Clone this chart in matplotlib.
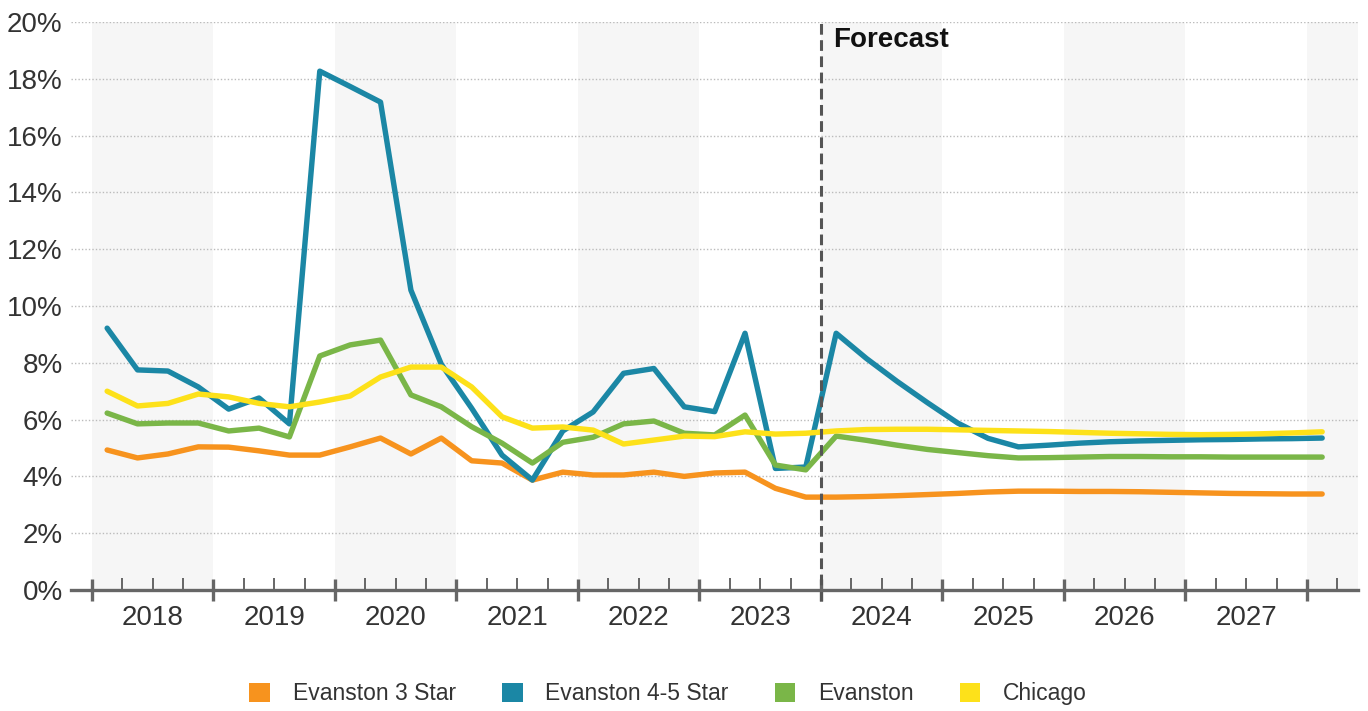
import numpy as np
import matplotlib
matplotlib.use("Agg")
import matplotlib.pyplot as plt
from matplotlib.patches import Patch

plt.rcParams["font.family"] = ["Liberation Sans", "DejaVu Sans"]

# quarterly vacancy rates, 2018 Q1 .. 2028 Q1
years = list(range(2018, 2028))
first_forecast_q = 24  # 2024 Q1

evanston_3 = [4.93, 4.65, 4.79, 5.04, 5.03, 4.90, 4.75, 4.75, 5.04, 5.35, 4.79, 5.35,
              4.55, 4.47, 3.87, 4.15, 4.05, 4.05, 4.15, 4.00, 4.12, 4.15, 3.58, 3.27,
              3.27, 3.29, 3.32, 3.36, 3.40, 3.45, 3.48, 3.48, 3.47, 3.47, 3.46, 3.44,
              3.42, 3.40, 3.39, 3.38, 3.38]
evanston_45 = [9.22, 7.75, 7.71, 7.15, 6.37, 6.76, 5.85, 18.27, 17.73, 17.18, 10.56, 7.95,
               6.40, 4.75, 3.87, 5.60, 6.27, 7.63, 7.80, 6.45, 6.28, 9.04, 4.28, 4.33,
               9.04, 8.15, 7.35, 6.60, 5.88, 5.34, 5.04, 5.10, 5.17, 5.22, 5.25, 5.27,
               5.29, 5.30, 5.32, 5.33, 5.35]
evanston = [6.23, 5.85, 5.88, 5.88, 5.60, 5.70, 5.39, 8.24, 8.63, 8.80, 6.87, 6.45,
            5.75, 5.17, 4.47, 5.20, 5.38, 5.85, 5.95, 5.52, 5.46, 6.16, 4.40, 4.23,
            5.42, 5.27, 5.10, 4.95, 4.84, 4.73, 4.65, 4.66, 4.68, 4.70, 4.70, 4.69,
            4.69, 4.68, 4.68, 4.68, 4.68]
chicago = [7.00, 6.48, 6.57, 6.90, 6.80, 6.57, 6.45, 6.62, 6.83, 7.50, 7.85, 7.85,
           7.15, 6.10, 5.70, 5.74, 5.63, 5.14, 5.28, 5.42, 5.40, 5.57, 5.49, 5.52,
           5.60, 5.65, 5.66, 5.66, 5.64, 5.62, 5.60, 5.58, 5.55, 5.52, 5.50, 5.48,
           5.47, 5.48, 5.50, 5.53, 5.57]

series = [
    ("Evanston 3 Star", evanston_3, "#F7931E"),
    ("Evanston 4-5 Star", evanston_45, "#1B87A5"),
    ("Evanston", evanston, "#7AB648"),
    ("Chicago", chicago, "#FDE11A"),
]

fig = plt.figure(figsize=(13.68, 7.11), dpi=100)
ax = fig.add_axes([0.0519, 0.1702, 0.9408, 0.7988])

# alternating year bands
for k in range(0, 12, 2):
    ax.axvspan(4 * k, 4 * k + 4, color="#F6F6F6", lw=0, zorder=0)

for name, vals, col in series:
    x = np.arange(len(vals)) + 0.5
    ax.plot(x, vals, color=col, lw=3.9, solid_capstyle="round",
            solid_joinstyle="round", zorder=3)

ax.set_xlim(-0.69, 41.68)
ax.set_ylim(0, 20)

# y axis
ax.set_yticks(range(0, 21, 2))
ax.set_yticklabels([f"{v}%" for v in range(0, 21, 2)])
ax.tick_params(axis="y", length=0, pad=6, labelsize=20, labelcolor="#333333")
for v in range(2, 21, 2):
    ax.axhline(v, color="#BBBBBB", lw=1.0, ls=(0, (1, 1.5)), zorder=1)

# x axis: year ticks and quarter ticks
for s in ["top", "right", "left"]:
    ax.spines[s].set_visible(False)
ax.spines["bottom"].set_color("#666666")
ax.spines["bottom"].set_linewidth(2.4)
ax.spines["bottom"].set_zorder(5)
ax.set_xticks(np.arange(0, 41, 4))
ax.set_xticklabels([])
ax.set_xticks([q for q in range(0, 42) if q % 4], minor=True)
ax.tick_params(axis="x", which="major", direction="inout", length=16.5,
               width=2.4, color="#666666")
ax.tick_params(axis="x", which="minor", direction="in", length=8.6,
               width=1.4, color="#666666")

for i, yr in enumerate(years):
    ax.annotate(str(yr), xy=(4 * i + 2, 0), xycoords=("data", "axes fraction"),
                xytext=(0, -28), textcoords="offset pixels",
                ha="center", va="center", fontsize=20, color="#333333")

# forecast divider
ax.axvline(first_forecast_q, ymin=-0.02, ymax=1, color="#555555", lw=2.2,
           ls=(0, (3.5, 1.8)), clip_on=False, zorder=4)
ax.text(first_forecast_q + 0.4, 19.82, "Forecast", fontsize=20,
        fontweight="bold", ha="left", va="top", color="#111111")

handles = [Patch(facecolor=c, edgecolor="none", label=n) for n, _, c in series]
fig.legend(handles=handles, loc="center", bbox_to_anchor=(0.4885, 0.024),
           ncol=4, frameon=False, fontsize=16.5, handlelength=0.9,
           handleheight=0.95, handletextpad=1.0, columnspacing=2.0,
           labelcolor="#333333")

fig.savefig("out.png", dpi=100)
